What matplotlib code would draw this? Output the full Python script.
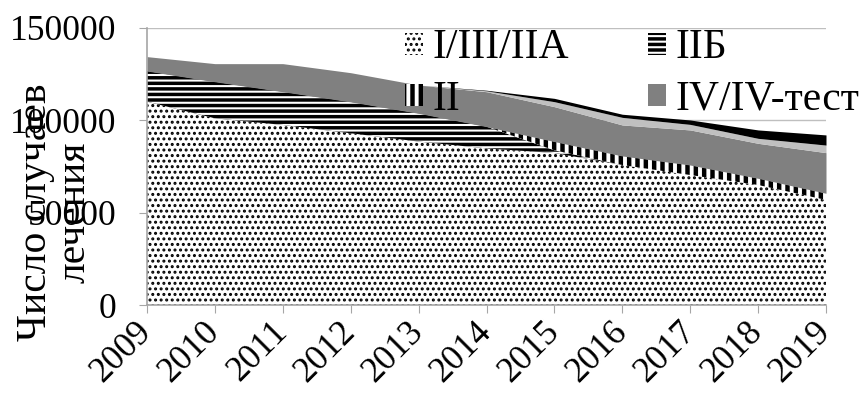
import numpy as np
import matplotlib.pyplot as plt
from matplotlib.transforms import ScaledTranslation

plt.rcParams['font.family'] = ['Liberation Serif', 'DejaVu Serif']
plt.rcParams['hatch.linewidth'] = 1.0

# treatment cases by stage group, 2009-2019
years = ['2009', '2010', '2011', '2012', '2013', '2014', '2015', '2016', '2017', '2018', '2019']
stage_1_3_2a = [110100, 101100, 97500, 93000, 88500, 84800, 82300, 75800, 70400, 65000, 56900]
stage_2b = [16600, 19800, 18000, 17000, 15300, 11800, 1500, 0, 0, 0, 0]
stage_2 = [0, 0, 0, 0, 0, 0, 4700, 4900, 5400, 3600, 3600]
stage_4 = [7800, 9800, 15200, 15800, 15300, 18900, 18900, 16800, 19000, 18950, 22000]
other_light = [0, 0, 0, 0, 0, 500, 2700, 4100, 3000, 2700, 4100]
other_dark = [0, 0, 0, 0, 0, 300, 1800, 1700, 2400, 4550, 5500]

labels = ['I/III/IIA', 'IIБ', 'II', 'IV/IV-тест', '_a', '_b']
faces = ['white', 'black', 'white', '#808080', '#C0C0C0', 'black']
hatch_colors = ['black', 'white', 'black', '#808080', '#C0C0C0', 'black']
hatches = ['...', '---', '||', None, None, None]
hatch_widths = [1.4, 1.5, 3.2, 1.0, 1.0, 1.0]

fig = plt.figure(figsize=(8.65, 4.01), dpi=100)
ax = fig.add_axes([147 / 865, 1 - 305 / 401, (826 - 147) / 865, (305 - 28) / 401])

x = np.arange(len(years))
polys = ax.stackplot(x, stage_1_3_2a, stage_2b, stage_2, stage_4, other_light, other_dark,
                     labels=labels, colors=faces, zorder=2)
for p, hc, h, hw in zip(polys, hatch_colors, hatches, hatch_widths):
    p.set_edgecolor(hc)
    p.set_linewidth(0)
    if h:
        p.set_hatch(h)
        if hasattr(p, 'set_hatch_linewidth'):
            p.set_hatch_linewidth(hw)

ax.set_xlim(0, len(years) - 1)
ax.set_ylim(0, 150000)
ax.set_yticks([0, 50000, 100000, 150000])
ax.set_yticklabels(['0', '50000', '100000', '150000'])
ax.set_xticks(x)
ax.set_xticklabels(years, rotation=45, ha='right', va='center', rotation_mode='anchor')
shift = ScaledTranslation(15 / 100, 0, fig.dpi_scale_trans)
for lbl in ax.get_xticklabels():
    lbl.set_transform(lbl.get_transform() + shift)

ax.yaxis.grid(True, color='#BFBFBF', lw=1)
ax.set_axisbelow(True)
for side in ['top', 'right']:
    ax.spines[side].set_visible(False)
for side in ['left', 'bottom']:
    ax.spines[side].set_color('#A6A6A6')
    ax.spines[side].set_linewidth(1.2)
ax.tick_params(axis='y', direction='out', length=6, color='#A6A6A6', labelsize=25.5, pad=16)
ax.tick_params(axis='x', direction='out', length=6, color='#A6A6A6', labelsize=25.5, pad=10)

fig.text(55 / 865, 1 - 212 / 401, 'Число случаев\nлечения', rotation=90, fontsize=30,
         ha='center', va='center', multialignment='center', linespacing=0.98)

handles, names = ax.get_legend_handles_labels()
order = [0, 2, 1, 3]
leg = ax.legend([handles[i] for i in order], [names[i] for i in order], ncol=2, frameon=False,
                loc='upper left', bbox_to_anchor=(405 / 865, 1 - 29 / 401),
                bbox_transform=fig.transFigure, borderpad=0, borderaxespad=0,
                fontsize=30, handlelength=0.42, handleheight=0.43, handletextpad=0.24,
                columnspacing=1.9, labelspacing=0.3)
for lh, i in zip(leg.legend_handles, order):
    if hasattr(lh, 'set_hatch_linewidth'):
        lh.set_hatch_linewidth(hatch_widths[i])

fig.savefig('out.png', dpi=100)
